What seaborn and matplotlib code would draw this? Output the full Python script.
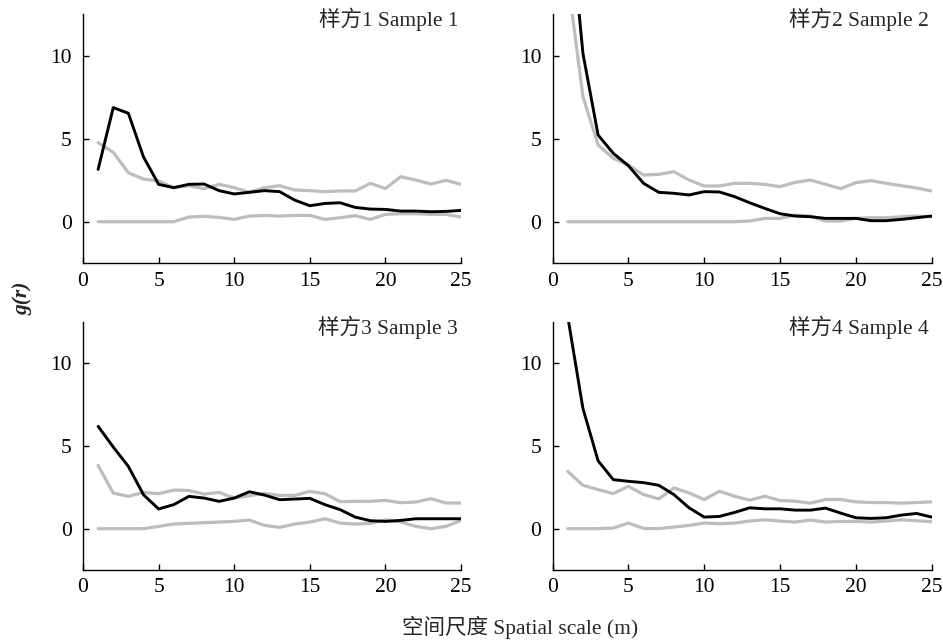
import numpy as np
import pandas as pd
import matplotlib
matplotlib.use("Agg")
import matplotlib.pyplot as plt
import seaborn as sns

# ---------------- data ----------------
scale = list(range(1, 26))

titles = ["样方1 Sample 1", "样方2 Sample 2", "样方3 Sample 3", "样方4 Sample 4"]

obs1 = [3.15, 6.87, 6.53, 3.9, 2.25, 2.05, 2.25, 2.27, 1.87, 1.67, 1.77, 1.87, 1.81,
        1.3, 0.96, 1.1, 1.14, 0.86, 0.76, 0.74, 0.64, 0.64, 0.6, 0.62, 0.68]
up1 = [4.76, 4.18, 2.95, 2.57, 2.45, 2.05, 2.17, 1.99, 2.25, 2.05, 1.77, 2.05, 2.17,
       1.91, 1.87, 1.81, 1.85, 1.85, 2.31, 2.0, 2.71, 2.51, 2.27, 2.49, 2.25]
lo1 = [0, 0, 0, 0, 0, 0, 0.28, 0.32, 0.26, 0.14, 0.34, 0.38, 0.34,
       0.38, 0.38, 0.14, 0.24, 0.36, 0.14, 0.44, 0.48, 0.48, 0.44, 0.44, 0.28]

obs2 = [19.7, 10.14, 5.22, 4.12, 3.37, 2.31, 1.77, 1.71, 1.61, 1.81, 1.79, 1.51, 1.14,
        0.8, 0.48, 0.34, 0.3, 0.2, 0.2, 0.2, 0.06, 0.06, 0.14, 0.24, 0.34]
up2 = [14.6, 7.53, 4.62, 3.82, 3.41, 2.81, 2.85, 3.01, 2.51, 2.15, 2.15, 2.31, 2.31,
       2.25, 2.11, 2.37, 2.51, 2.25, 1.99, 2.35, 2.47, 2.31, 2.17, 2.03, 1.85]
lo2 = [0, 0, 0, 0, 0, 0, 0, 0, 0, 0, 0, 0, 0.04,
       0.2, 0.2, 0.4, 0.34, 0.04, 0.04, 0.2, 0.24, 0.24, 0.3, 0.34, 0.3]

obs3 = [6.18, 4.93, 3.76, 2.05, 1.19, 1.45, 1.95, 1.85, 1.65, 1.85, 2.23, 2.03, 1.75,
        1.79, 1.83, 1.45, 1.15, 0.7, 0.48, 0.44, 0.5, 0.6, 0.6, 0.6, 0.6]
up3 = [3.82, 2.15, 1.95, 2.19, 2.11, 2.33, 2.31, 2.09, 2.19, 1.85, 1.99, 2.13, 2.01,
       2.01, 2.25, 2.11, 1.63, 1.65, 1.65, 1.71, 1.57, 1.61, 1.81, 1.55, 1.55]
lo3 = [0, 0, 0, 0, 0.14, 0.28, 0.32, 0.36, 0.4, 0.44, 0.52, 0.2, 0.08,
       0.28, 0.4, 0.6, 0.34, 0.28, 0.32, 0.54, 0.4, 0.14, 0.0, 0.14, 0.5]

obs4 = [12.8, 7.26, 4.1, 2.96, 2.86, 2.78, 2.62, 2.06, 1.26, 0.7, 0.74, 0.98, 1.26,
        1.2, 1.2, 1.12, 1.12, 1.24, 0.94, 0.66, 0.62, 0.66, 0.82, 0.92, 0.7]
up4 = [3.46, 2.62, 2.36, 2.12, 2.56, 2.06, 1.8, 2.46, 2.16, 1.76, 2.26, 1.96, 1.72,
       1.96, 1.7, 1.66, 1.54, 1.76, 1.76, 1.62, 1.58, 1.58, 1.54, 1.58, 1.62]
lo4 = [0, 0, 0, 0.04, 0.34, 0.02, 0, 0.1, 0.2, 0.34, 0.3, 0.34, 0.46,
       0.54, 0.46, 0.4, 0.52, 0.4, 0.44, 0.44, 0.4, 0.46, 0.54, 0.48, 0.42]

xticks = [0, 5, 10, 15, 20, 25]
yticks = [0, 5, 10]

panels = [(obs1, up1, lo1), (obs2, up2, lo2), (obs3, up3, lo3), (obs4, up4, lo4)]

# ---------------- style ----------------
sns.set_style("ticks")
FONT = ["Liberation Serif", "Noto Sans CJK SC", "DejaVu Sans"]
plt.rcParams["font.family"] = FONT

fig = plt.figure(figsize=(9.43, 6.42), dpi=100)

positions = [
    [0.088, 0.590, 0.401, 0.388],
    [0.586, 0.590, 0.402, 0.388],
    [0.088, 0.112, 0.401, 0.387],
    [0.586, 0.112, 0.402, 0.387],
]

GREY = "#bdbdbd"

for i, (obs, up, lo) in enumerate(panels):
    ax = fig.add_axes(positions[i])
    df = pd.DataFrame({
        "r": scale * 3,
        "g": obs + up + lo,
        "series": ["obs"] * 25 + ["up"] * 25 + ["lo"] * 25,
    })
    sns.lineplot(data=df[df.series == "up"], x="r", y="g", ax=ax,
                 color=GREY, linewidth=2.3, legend=False)
    sns.lineplot(data=df[df.series == "lo"], x="r", y="g", ax=ax,
                 color=GREY, linewidth=2.3, legend=False)
    sns.lineplot(data=df[df.series == "obs"], x="r", y="g", ax=ax,
                 color="black", linewidth=2.1, legend=False)
    ax.set_xlim(0, 25)
    ax.set_ylim(-2.5, 12.5)
    ax.set_xticks(xticks)
    ax.set_yticks(yticks)
    ax.set_xlabel("")
    ax.set_ylabel("")
    sns.despine(ax=ax)
    for s in ["left", "bottom"]:
        ax.spines[s].set_linewidth(1.0)
        ax.spines[s].set_color("black")
    ax.tick_params(direction="in", length=4.5, width=1.0, labelsize=15.5,
                   colors="black")
    ax.tick_params(axis="y", pad=8)
    ax.tick_params(axis="x", pad=6)
    for lab in ax.get_xticklabels() + ax.get_yticklabels():
        lab.set_family(FONT)
    ax.text(0.992, 0.978, titles[i], transform=ax.transAxes, ha="right",
            va="center", fontsize=15.5, family=FONT)

fig.text(0.551, 0.022, "空间尺度 Spatial scale (m)", ha="center", va="center",
         fontsize=15.5, family=FONT)
fig.text(0.024, 0.535, "g(r)", ha="center", va="center", rotation=90,
         fontsize=15.5, fontstyle="italic", fontweight="bold", family=FONT)

fig.savefig("out.png", dpi=100)
